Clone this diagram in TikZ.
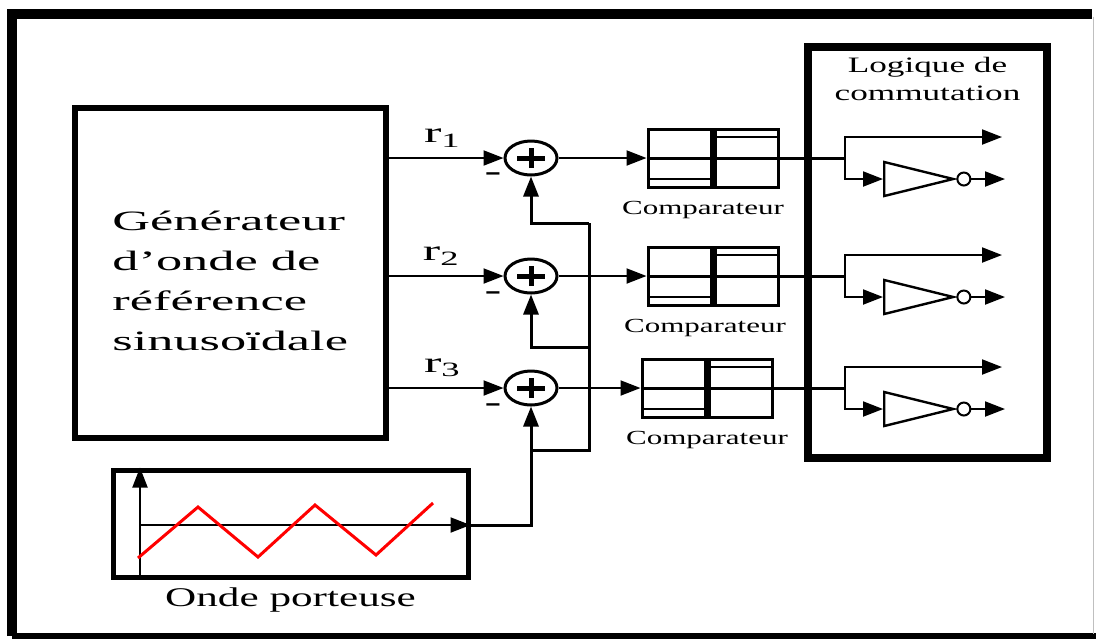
\documentclass[tikz,border=0pt]{standalone}
\usepackage{fontspec}
\setmainfont{Liberation Serif}
\usepackage{tikz}
\usetikzlibrary{shapes.geometric, arrows.meta, positioning}
\tikzstyle{block} = [rectangle, draw, text centered, inner sep=0pt]
\tikzstyle{bigblock} = [block, line width=3pt]
\tikzstyle{comparator} = [block, line width=1.5pt, minimum width=65pt, minimum height=29pt,
    path picture={
        \draw[line width=3.5pt] (path picture bounding box.north) -- (path picture bounding box.south);
        \draw[line width=1.5pt] (path picture bounding box.west) -- (path picture bounding box.east);
        \draw[line width=1.2pt] ([yshift=-4pt]path picture bounding box.north) -- ([yshift=-4pt]path picture bounding box.north east);
        \draw[line width=1.2pt] ([yshift=4pt]path picture bounding box.south west) -- ([yshift=4pt]path picture bounding box.south);
    }]
\tikzstyle{sum} = [ellipse, draw, line width=1.5pt, minimum width=26pt, minimum height=17pt, inner sep=0pt,
    path picture={
        \draw[line width=2.5pt] ([xshift=-7pt]path picture bounding box.center) -- ([xshift=7pt]path picture bounding box.center);
        \draw[line width=2.5pt] ([yshift=-5pt]path picture bounding box.center) -- ([yshift=5pt]path picture bounding box.center);
    }]
\tikzstyle{inverter} = [isosceles triangle, draw, line width=1.2pt, isosceles triangle stretches,
    minimum width=17pt, minimum height=34.5pt, inner sep=0pt]
\tikzstyle{bubble} = [circle, draw, line width=1pt, minimum size=6.5pt, inner sep=0pt]
\tikzstyle{arrow} = [draw, line width=1pt, -{Triangle[length=10pt, width=7.5pt]}]
\tikzstyle{wire} = [draw, line width=1.5pt]
\tikzstyle{lbl} = [inner sep=0pt, align=center]
\newcommand{\wide}[2][1.6]{\scalebox{#1}[1]{#2}}

\begin{document}
\begin{tikzpicture}[
    x=0.5pt, y=-0.5pt,
    every node/.style={align=center}
]
    \useasboundingbox (0,0) rectangle (1096,639);
    % cadre
    \draw[line width=5pt] (12,636) -- (12,14) -- (1092,14);
    \draw[line width=3pt] (12,636) -- (1096,636);
    \draw[line width=0.5pt, gray!50] (1093,16.5) -- (1093,634);

    \node[bigblock, minimum width=155.5pt, minimum height=165pt] (gen) at (230.5,273) {};
    \node[lbl, align=left, anchor=west, font=\fontsize{14}{20}\selectfont] (gentext) at (112,281)
        {\wide[1.87]{Générateur}\\ \wide[1.87]{d’onde de}\\ \wide[1.87]{référence}\\ \wide[1.87]{sinusoïdale}};

    \node[sum] (sum1) at (531,158) {};
    \node[sum] (sum2) at (531,276) {};
    \node[sum] (sum3) at (531,388) {};

    \node[lbl, font=\fontsize{14}{16}\selectfont\bfseries] (minus1) at (493,177) {\wide[1.8]{-}};
    \node[lbl, font=\fontsize{14}{16}\selectfont\bfseries] (minus2) at (493,296) {\wide[1.8]{-}};
    \node[lbl, font=\fontsize{14}{16}\selectfont\bfseries] (minus3) at (493,408) {\wide[1.8]{-}};

    \node[comparator] (comp1) at (713,158) {};
    \node[comparator] (comp2) at (713,276) {};
    \node[comparator] (comp3) at (707,388) {};
    \node[lbl, font=\fontsize{10}{12}\selectfont, below=6pt of comp1, xshift=-5pt] (complabel1) {\wide[1.55]{Comparateur}};
    \node[lbl, font=\fontsize{10}{12}\selectfont, below=6pt of comp2, xshift=-4pt] (complabel2) {\wide[1.55]{Comparateur}};
    \node[lbl, font=\fontsize{10}{12}\selectfont, below=6pt of comp3] (complabel3) {\wide[1.55]{Comparateur}};

    \node[block, line width=4pt, minimum width=119.5pt, minimum height=205.5pt] (logic) at (927.5,252.5) {};
    \node[lbl, font=\fontsize{11}{14}\selectfont, below=7pt of logic.north] (logictitle)
        {\wide[1.6]{Logique de}\\ \wide[1.6]{commutation}};

    \node[inverter, anchor=west] (inv1) at (883,179) {};
    \node[inverter, anchor=west] (inv2) at (883,297) {};
    \node[inverter, anchor=west] (inv3) at (883,409) {};
    \node[bubble, right=0pt of inv1] (bub1) {};
    \node[bubble, right=0pt of inv2] (bub2) {};
    \node[bubble, right=0pt of inv3] (bub3) {};

    \node[block, line width=2.5pt, minimum width=177.5pt, minimum height=53.5pt] (carrier) at (290.5,523.5) {};
    \node[lbl, font=\fontsize{13.5}{16}\selectfont, below=4pt of carrier] (carrierlabel) {\wide[1.6]{Onde porteuse}};

    \coordinate (origin) at (140,525);
    \coordinate (fork1) at (845,158);
    \coordinate (fork2) at (845,276);
    \coordinate (fork3) at (845,388);
    \coordinate (out1a) at (1002,137);
    \coordinate (out1b) at (1005,179);
    \coordinate (out2a) at (1002,255);
    \coordinate (out2b) at (1005,297);
    \coordinate (out3a) at (1002,367);
    \coordinate (out3b) at (1005,409);
    \coordinate (bus1) at (589,223);
    \coordinate (bus2) at (589,347);
    \coordinate (bus3) at (589,450);
    \coordinate (join3) at (531,450);

    % references
    \path[arrow] (gen.east |- sum1) -- node[lbl, pos=0.47, above=5pt,
        font=\fontsize{14.5}{16}\selectfont] {\wide[1.8]{r\textsubscript{1}}} (sum1);
    \path[arrow] (gen.east |- sum2) -- node[lbl, pos=0.46, above=5pt,
        font=\fontsize{14.5}{16}\selectfont] {\wide[1.8]{r\textsubscript{2}}} (sum2);
    \path[arrow] (gen.east |- sum3) -- node[lbl, pos=0.47, above=5pt,
        font=\fontsize{14.5}{16}\selectfont] {\wide[1.8]{r\textsubscript{3}}} (sum3);

    % porteuse
    \path[arrow] (carrier.south -| origin) -- (carrier.north -| origin);
    \path[arrow] (origin) -- (carrier.east |- origin);
    \draw[red, line width=1.5pt] (138,558) -- (198,507) -- (258,557) -- (315,505) -- (376,555) -- (433,503);
    \path[arrow, line width=1.5pt] (carrier.east |- origin) -| (sum3.south);
    \path[wire] (join3) -- (bus3) -- (bus1);
    \path[arrow, line width=1.5pt] (bus1) -| (sum1.south);
    \path[arrow, line width=1.5pt] (bus2) -| (sum2.south);

    % comparateurs
    \path[arrow] (sum1) -- (comp1);
    \path[arrow] (sum2) -- (comp2);
    \path[arrow] (sum3) -- (comp3);
    \path[wire] (comp1) -- (fork1);
    \path[wire] (comp2) -- (fork2);
    \path[wire] (comp3) -- (fork3);

    % logique
    \path[arrow] (fork1) |- (out1a);
    \path[arrow] (fork1) |- (inv1.west);
    \path[arrow] (bub1) -- (out1b);
    \path[arrow] (fork2) |- (out2a);
    \path[arrow] (fork2) |- (inv2.west);
    \path[arrow] (bub2) -- (out2b);
    \path[arrow] (fork3) |- (out3a);
    \path[arrow] (fork3) |- (inv3.west);
    \path[arrow] (bub3) -- (out3b);
\end{tikzpicture}
\end{document}
